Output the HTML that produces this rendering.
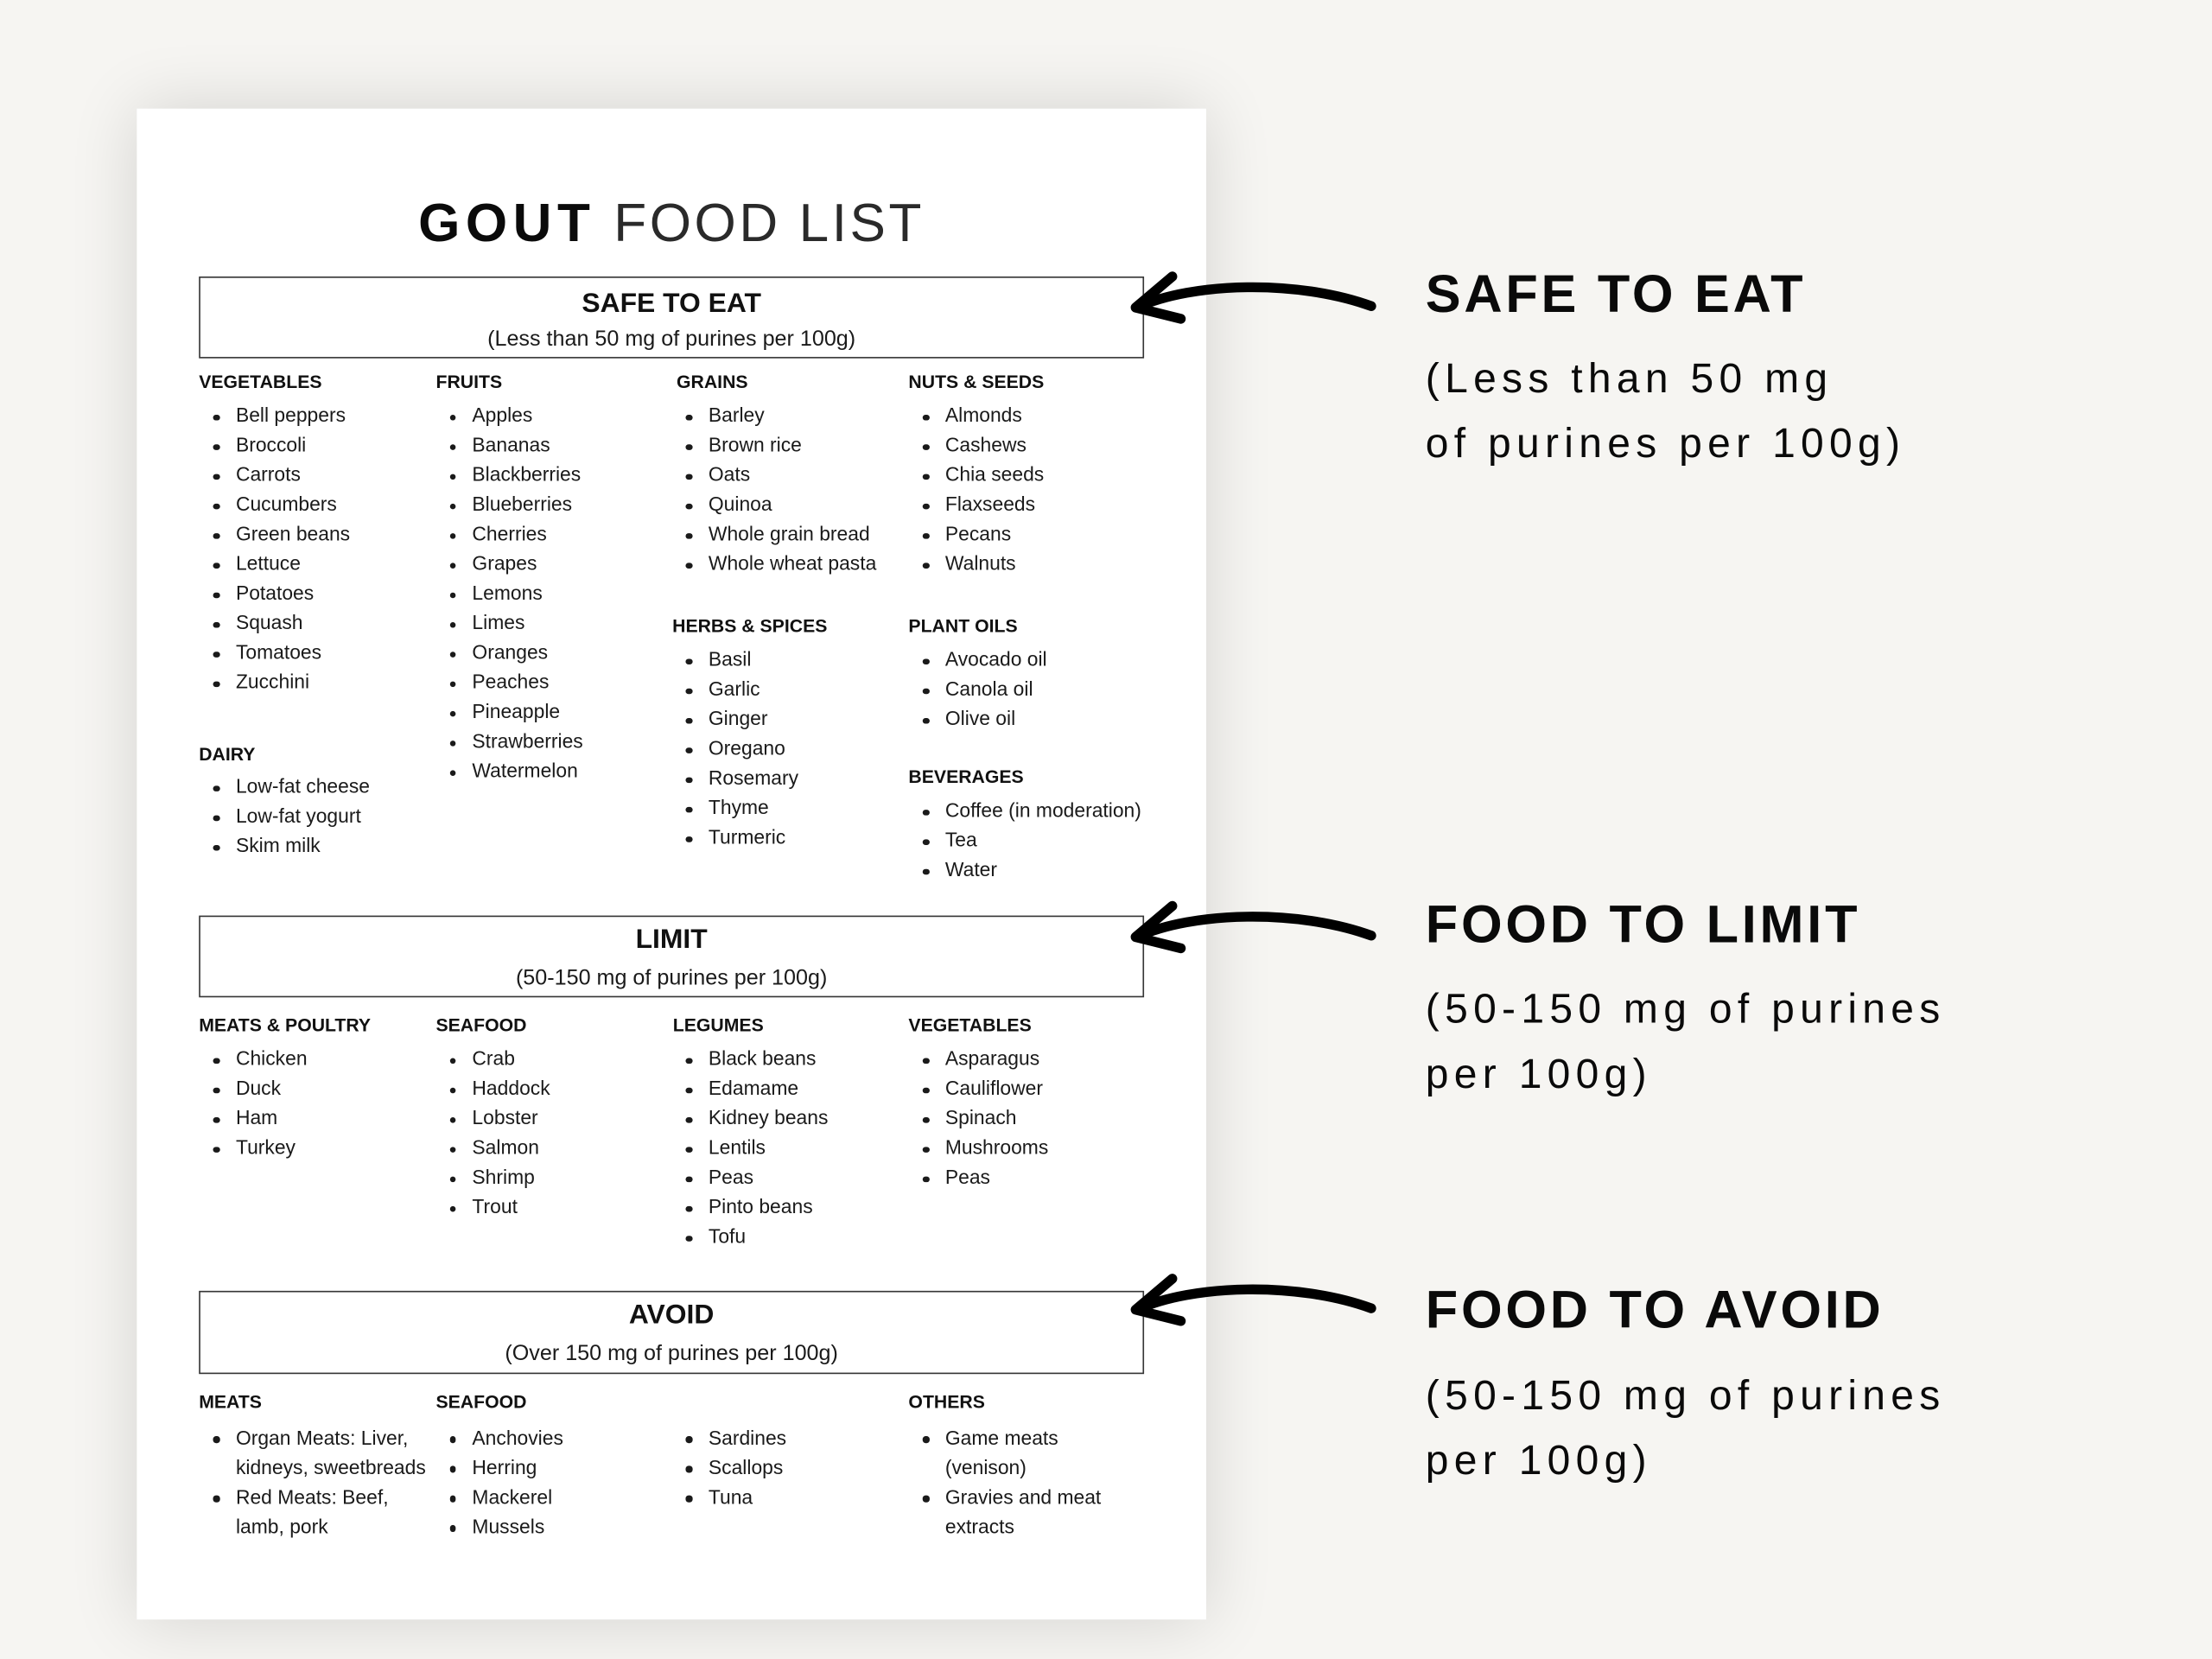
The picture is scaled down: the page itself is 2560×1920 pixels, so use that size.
<!DOCTYPE html>
<html>
<head>
<meta charset="utf-8">
<style>
  html, body { margin:0; padding:0; }
  body { width:2560px; height:1920px; overflow:hidden; background:#f6f5f2; }
  #wrap { position:absolute; left:0; top:0; width:1568px; height:1176px; transform:scale(1.6326531); transform-origin:0 0; font-family:"Liberation Sans", Arial, sans-serif; color:#111; }
  .paper { position:absolute; left:97px; top:77px; width:758px; height:1071px; background:#fff; box-shadow:0 0 46px rgba(0,0,0,0.14); }
  .abs { position:absolute; white-space:nowrap; }
  .h { position:absolute; font-weight:bold; font-size:13px; line-height:13px; white-space:nowrap; color:#111; }
  .col { position:absolute; font-size:14px; line-height:21px; white-space:nowrap; color:#1a1a1a; }
  .col div { position:relative; height:21px; }
  .col .b::before { content:""; position:absolute; left:-15.9px; top:9.65px; width:4.4px; height:4.4px; border-radius:50%; background:#1a1a1a; }
  .box { position:absolute; left:141px; width:670px; height:58.6px; box-sizing:border-box; border:1.2px solid #363636; }
  .bt { position:absolute; left:141px; width:670px; text-align:center; font-weight:bold; font-size:19.5px; line-height:19.5px; color:#111; }
  .bs { position:absolute; left:141px; width:670px; text-align:center; font-size:15.4px; line-height:15.4px; color:#1a1a1a; }
  .rt { position:absolute; left:1010.5px; font-weight:bold; font-size:37.5px; line-height:37.5px; letter-spacing:2.3px; white-space:nowrap; color:#0a0a0a; }
  .rs { position:absolute; left:1010.5px; font-size:29.4px; line-height:29.4px; letter-spacing:3.86px; white-space:nowrap; color:#0a0a0a; }
</style>
</head>
<body>
<div id="wrap">
  <div class="paper"></div>

  <!-- Title -->
  <div class="abs" style="left:296.5px; top:140.3px; font-size:38px; line-height:38px; font-weight:bold; letter-spacing:4px; color:#0a0a0a;">GOUT</div>
  <div class="abs" style="left:435px; top:140.3px; font-size:38px; line-height:38px; letter-spacing:2.2px; color:#2a2a2a;">FOOD LIST</div>

  <!-- SAFE TO EAT box -->
  <div class="box" style="top:195.6px;"></div>
  <div class="bt" style="top:205.5px;">SAFE TO EAT</div>
  <div class="bs" style="top:233px;">(Less than 50 mg of purines per 100g)</div>

  <div class="h" style="left:141px; top:264.2px;">VEGETABLES</div>
  <div class="h" style="left:309px; top:264.2px;">FRUITS</div>
  <div class="h" style="left:479.6px; top:264.2px;">GRAINS</div>
  <div class="h" style="left:644px; top:264.2px;">NUTS &amp; SEEDS</div>

  <div class="col" style="left:167.2px; top:284.15px;">
    <div class="b">Bell peppers</div><div class="b">Broccoli</div><div class="b">Carrots</div><div class="b">Cucumbers</div><div class="b">Green beans</div><div class="b">Lettuce</div><div class="b">Potatoes</div><div class="b">Squash</div><div class="b">Tomatoes</div><div class="b">Zucchini</div>
  </div>
  <div class="col" style="left:334.7px; top:284.15px;">
    <div class="b">Apples</div><div class="b">Bananas</div><div class="b">Blackberries</div><div class="b">Blueberries</div><div class="b">Cherries</div><div class="b">Grapes</div><div class="b">Lemons</div><div class="b">Limes</div><div class="b">Oranges</div><div class="b">Peaches</div><div class="b">Pineapple</div><div class="b">Strawberries</div><div class="b">Watermelon</div>
  </div>
  <div class="col" style="left:502.2px; top:284.15px;">
    <div class="b">Barley</div><div class="b">Brown rice</div><div class="b">Oats</div><div class="b">Quinoa</div><div class="b">Whole grain bread</div><div class="b">Whole wheat pasta</div>
  </div>
  <div class="col" style="left:670px; top:284.15px;">
    <div class="b">Almonds</div><div class="b">Cashews</div><div class="b">Chia seeds</div><div class="b">Flaxseeds</div><div class="b">Pecans</div><div class="b">Walnuts</div>
  </div>

  <div class="h" style="left:476.6px; top:437.2px;">HERBS &amp; SPICES</div>
  <div class="h" style="left:644px; top:437.2px;">PLANT OILS</div>
  <div class="col" style="left:502.2px; top:457.15px;">
    <div class="b">Basil</div><div class="b">Garlic</div><div class="b">Ginger</div><div class="b">Oregano</div><div class="b">Rosemary</div><div class="b">Thyme</div><div class="b">Turmeric</div>
  </div>
  <div class="col" style="left:670px; top:457.15px;">
    <div class="b">Avocado oil</div><div class="b">Canola oil</div><div class="b">Olive oil</div>
  </div>

  <div class="h" style="left:141px; top:527.5px;">DAIRY</div>
  <div class="col" style="left:167.2px; top:547.45px;">
    <div class="b">Low-fat cheese</div><div class="b">Low-fat yogurt</div><div class="b">Skim milk</div>
  </div>
  <div class="h" style="left:644px; top:544px;">BEVERAGES</div>
  <div class="col" style="left:670px; top:564.15px;">
    <div class="b">Coffee (in moderation)</div><div class="b">Tea</div><div class="b">Water</div>
  </div>

  <!-- LIMIT box -->
  <div class="box" style="top:648.8px;"></div>
  <div class="bt" style="top:656.5px;">LIMIT</div>
  <div class="bs" style="top:686px;">(50-150 mg of purines per 100g)</div>

  <div class="h" style="left:141px; top:720px;">MEATS &amp; POULTRY</div>
  <div class="h" style="left:309px; top:720px;">SEAFOOD</div>
  <div class="h" style="left:477px; top:720px;">LEGUMES</div>
  <div class="h" style="left:644px; top:720px;">VEGETABLES</div>

  <div class="col" style="left:167.2px; top:740.15px;">
    <div class="b">Chicken</div><div class="b">Duck</div><div class="b">Ham</div><div class="b">Turkey</div>
  </div>
  <div class="col" style="left:334.7px; top:740.15px;">
    <div class="b">Crab</div><div class="b">Haddock</div><div class="b">Lobster</div><div class="b">Salmon</div><div class="b">Shrimp</div><div class="b">Trout</div>
  </div>
  <div class="col" style="left:502.2px; top:740.15px;">
    <div class="b">Black beans</div><div class="b">Edamame</div><div class="b">Kidney beans</div><div class="b">Lentils</div><div class="b">Peas</div><div class="b">Pinto beans</div><div class="b">Tofu</div>
  </div>
  <div class="col" style="left:670px; top:740.15px;">
    <div class="b">Asparagus</div><div class="b">Cauliflower</div><div class="b">Spinach</div><div class="b">Mushrooms</div><div class="b">Peas</div>
  </div>

  <!-- AVOID box -->
  <div class="box" style="top:915px;"></div>
  <div class="bt" style="top:922.5px;">AVOID</div>
  <div class="bs" style="top:951.7px;">(Over 150 mg of purines per 100g)</div>

  <div class="h" style="left:141px; top:987.4px;">MEATS</div>
  <div class="h" style="left:309px; top:987.4px;">SEAFOOD</div>
  <div class="h" style="left:644px; top:987.4px;">OTHERS</div>

  <div class="col" style="left:167.2px; top:1008.55px;">
    <div class="b">Organ Meats: Liver,</div><div>kidneys, sweetbreads</div><div class="b">Red Meats: Beef,</div><div>lamb, pork</div>
  </div>
  <div class="col" style="left:334.7px; top:1008.55px;">
    <div class="b">Anchovies</div><div class="b">Herring</div><div class="b">Mackerel</div><div class="b">Mussels</div>
  </div>
  <div class="col" style="left:502.2px; top:1008.55px;">
    <div class="b">Sardines</div><div class="b">Scallops</div><div class="b">Tuna</div>
  </div>
  <div class="col" style="left:670px; top:1008.55px;">
    <div class="b">Game meats</div><div>(venison)</div><div class="b">Gravies and meat</div><div>extracts</div>
  </div>

  <!-- Arrows -->
  <svg class="abs" style="left:0; top:0;" width="1568" height="1176" viewBox="0 0 1568 1176">
    <g fill="none" stroke="#000" stroke-width="7" stroke-linecap="round" stroke-linejoin="round">
      <path d="M806 218 C845 200 920 198 972 217 M831 196 L805 218 L837 226"/>
      <path transform="translate(0,446.2)" d="M806 218 C845 200 920 198 972 217 M831 196 L805 218 L837 226"/>
      <path transform="translate(0,710.4)" d="M806 218 C845 200 920 198 972 217 M831 196 L805 218 L837 226"/>
    </g>
  </svg>

  <!-- Right side labels -->
  <div class="rt" style="top:190px;">SAFE TO EAT</div>
  <div class="rs" style="top:254.3px;">(Less than 50 mg</div>
  <div class="rs" style="top:300.2px;">of purines per 100g)</div>

  <div class="rt" style="top:636.9px;">FOOD TO LIMIT</div>
  <div class="rs" style="top:700.9px;">(50-150 mg of purines</div>
  <div class="rs" style="top:747.3px;">per 100g)</div>

  <div class="rt" style="top:909.5px;">FOOD TO AVOID</div>
  <div class="rs" style="top:974.5px;">(50-150 mg of purines</div>
  <div class="rs" style="top:1020.8px;">per 100g)</div>
</div>
</body>
</html>
